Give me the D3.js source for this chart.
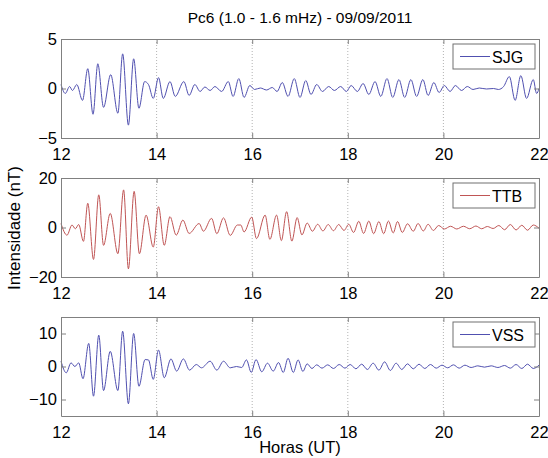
<!DOCTYPE html>
<html>
<head>
<meta charset="utf-8">
<script src="https://cdn.jsdelivr.net/npm/d3@7"></script>
<style>
  body { margin: 0; background: #fff; }
  text { font-family: "Liberation Sans", Arial, sans-serif; }
</style>
</head>
<body>
<div id="vis"></div>
<script>
// extrema: [hour UT, nT]
var sjg = [[12.00,0.4],[12.09,-0.5],[12.18,0.2],[12.24,-0.2],[12.33,0.4],[12.45,-1.2],[12.56,2.0],[12.67,-2.6],[12.77,2.5],[12.89,-1.9],[13.04,1.4],[13.19,-2.5],[13.29,3.5],[13.41,-3.7],[13.52,3.0],[13.63,-2.0],[13.75,0.7],[13.83,0.4],[13.93,-1.0],[14.04,1.1],[14.14,-1.0],[14.28,0.7],[14.39,-0.8],[14.57,0.7],[14.68,-0.7],[14.80,0.4],[14.91,-0.3],[15.01,0.15],[15.12,-0.2],[15.22,0.2],[15.36,-0.3],[15.50,0.7],[15.60,-0.8],[15.72,1.0],[15.83,-0.9],[15.95,0.3],[16.05,-0.1],[16.17,0.05],[16.30,-0.15],[16.42,0.1],[16.52,-0.3],[16.63,0.6],[16.75,-0.8],[16.88,1.0],[17.00,-0.9],[17.12,0.8],[17.23,-0.6],[17.35,0.4],[17.47,-0.3],[17.60,0.2],[17.72,-0.2],[17.85,0.2],[17.97,-0.3],[18.07,0.3],[18.20,-0.3],[18.32,0.5],[18.44,-0.6],[18.57,0.7],[18.69,-0.8],[18.82,1.0],[18.94,-0.9],[19.07,0.9],[19.19,-0.9],[19.32,0.9],[19.44,-0.8],[19.57,0.9],[19.68,-0.7],[19.80,0.6],[19.91,-0.4],[20.02,0.3],[20.14,-0.3],[20.25,0.3],[20.38,-0.2],[20.50,0.2],[20.62,-0.1],[20.75,0.05],[20.90,-0.05],[21.05,0.0],[21.15,-0.1],[21.26,0.2],[21.38,1.2],[21.50,-1.2],[21.62,1.3],[21.74,-1.0],[21.88,0.9],[21.95,-0.5],[22.00,0.0]];

var ttb = [[12.00,1.6],[12.125,-3.1],[12.23,1.0],[12.30,-0.5],[12.37,1.2],[12.47,-5.6],[12.56,9.8],[12.68,-12.9],[12.79,13.2],[12.89,-7.2],[13.03,5.7],[13.19,-10.6],[13.31,15.2],[13.41,-16.7],[13.53,14.6],[13.64,-10.6],[13.78,5.0],[13.93,-7.9],[14.04,8.4],[14.16,-7.2],[14.28,4.4],[14.41,-3.1],[14.55,3.0],[14.68,-2.4],[14.89,1.6],[14.98,-1.5],[15.15,3.7],[15.26,-2.5],[15.40,3.9],[15.54,-3.2],[15.69,1.0],[15.76,1.0],[15.83,-1.8],[15.99,4.2],[16.09,-4.5],[16.27,5.0],[16.37,-4.8],[16.51,5.0],[16.61,-5.3],[16.72,6.4],[16.83,-5.5],[16.94,4.0],[17.04,-3.0],[17.15,1.8],[17.26,-1.5],[17.37,1.3],[17.48,-1.4],[17.59,1.2],[17.70,-1.3],[17.81,1.2],[17.92,-1.2],[18.02,1.3],[18.12,-2.0],[18.23,2.5],[18.33,-2.4],[18.44,2.6],[18.54,-2.5],[18.65,2.4],[18.75,-2.5],[18.85,2.6],[18.95,-2.2],[19.04,2.4],[19.14,-2.0],[19.25,1.5],[19.37,-1.5],[19.47,1.6],[19.58,-1.4],[19.68,1.3],[19.79,-1.2],[19.90,0.8],[20.02,-0.6],[20.15,0.5],[20.28,-0.6],[20.42,0.5],[20.55,-0.5],[20.68,0.6],[20.80,-0.5],[20.92,0.4],[21.04,-0.4],[21.16,0.8],[21.28,-0.9],[21.40,1.2],[21.52,-1.0],[21.64,0.9],[21.76,-1.1],[21.88,1.0],[22.00,-0.3]];

var vss = [[12.00,1.6],[12.11,-1.9],[12.21,1.1],[12.29,0.0],[12.37,1.1],[12.46,-3.7],[12.58,7.0],[12.68,-9.0],[12.79,9.5],[12.89,-7.3],[13.03,4.6],[13.19,-7.3],[13.29,10.7],[13.41,-11.3],[13.52,10.0],[13.63,-6.0],[13.76,2.1],[13.83,2.0],[13.93,-3.9],[14.04,5.0],[14.16,-3.4],[14.30,2.3],[14.42,-1.4],[14.56,2.3],[14.69,-1.1],[14.83,0.6],[14.94,-0.4],[15.12,1.6],[15.26,-1.1],[15.40,1.6],[15.54,-0.4],[15.67,0.0],[15.78,-0.3],[15.88,2.0],[15.98,-1.8],[16.08,2.1],[16.20,-1.6],[16.32,1.0],[16.44,-1.4],[16.55,1.2],[16.65,-1.8],[16.75,2.5],[16.86,-1.8],[16.96,2.0],[17.06,-1.5],[17.15,0.8],[17.25,-0.6],[17.35,0.5],[17.46,-0.5],[17.58,0.5],[17.70,-0.6],[17.82,0.6],[17.94,-0.5],[18.05,0.6],[18.17,-0.7],[18.29,0.7],[18.41,-0.9],[18.53,1.0],[18.65,-1.1],[18.77,1.4],[18.89,-1.2],[19.01,1.0],[19.13,-0.9],[19.25,0.8],[19.37,-0.7],[19.49,0.7],[19.61,-0.6],[19.73,0.6],[19.85,-0.5],[19.97,0.4],[20.09,-0.4],[20.21,0.5],[20.33,-0.5],[20.45,0.4],[20.58,-0.3],[20.72,0.2],[20.86,-0.2],[21.00,0.2],[21.14,-0.3],[21.28,0.3],[21.40,-0.5],[21.52,0.6],[21.64,-0.6],[21.76,0.7],[21.88,-0.6],[22.00,0.4]];

var xTicks = [12, 14, 16, 18, 20, 22];
var names = ["SJG", "TTB", "VSS"];
var yDomains = [[-5, 5], [-20, 20], [-15, 15]];
var yTicks = [[-5, 0, 5], [-20, 0, 20], [-10, 0, 10]];
var colors = ["#5050b0", "#c05555", "#5050b0"];
var series = [sjg, ttb, vss];

var width = 548, height = 458;
var left = 61, right = 539;
var tops = [39, 178, 317], ph = 99;

var svg = d3.select("#vis").append("svg")
    .attr("width", width)
    .attr("height", height);

var x = d3.scaleLinear().domain([12, 22]).range([left, right]);

svg.append("text")
    .attr("x", (left + right) / 2)
    .attr("y", 23)
    .attr("text-anchor", "middle")
    .style("font-size", "15.5px")
    .text("Pc6 (1.0 - 1.6 mHz) - 09/09/2011");

names.forEach(function(name, i) {
    var top = tops[i];
    var y = d3.scaleLinear().domain(yDomains[i]).range([top + ph, top]);
    var g = svg.append("g");

    // dotted grid
    g.selectAll(".grid")
        .data(xTicks.slice(1, -1)).enter()
        .append("line")
        .attr("x1", function(d) { return x(d); })
        .attr("x2", function(d) { return x(d); })
        .attr("y1", top)
        .attr("y2", top + ph)
        .attr("stroke", "#a0a0a0")
        .attr("stroke-width", 0.8)
        .attr("stroke-dasharray", "1,2");

    var line = d3.line()
        .x(function(d) { return x(d[0]); })
        .y(function(d) { return y(d[1]); })
        .curve(d3.curveMonotoneX);

    g.append("path")
        .datum(series[i])
        .attr("d", line)
        .attr("fill", "none")
        .attr("stroke", colors[i])
        .attr("stroke-width", 1);

    // axes, ticks pointing in
    var xb = g.append("g").attr("transform", "translate(0," + (top + ph) + ")")
        .call(d3.axisBottom(x).tickValues(xTicks).tickSizeInner(-5).tickSizeOuter(0).tickPadding(10));
    var xt = g.append("g").attr("transform", "translate(0," + top + ")")
        .call(d3.axisTop(x).tickValues(xTicks).tickSizeInner(-5).tickSizeOuter(0).tickFormat(""));
    var yl = g.append("g").attr("transform", "translate(" + left + ",0)")
        .call(d3.axisLeft(y).tickValues(yTicks[i]).tickSizeInner(-5).tickSizeOuter(0).tickPadding(4));
    var yr = g.append("g").attr("transform", "translate(" + right + ",0)")
        .call(d3.axisRight(y).tickValues(yTicks[i]).tickSizeInner(-5).tickSizeOuter(0).tickFormat(""));

    [xb, xt, yl, yr].forEach(function(a) {
        a.select(".domain").attr("stroke", "#808080");
        a.selectAll(".tick line").attr("stroke", "#808080");
        a.selectAll(".tick text").style("font-size", "16.5px").attr("fill", "#000")
            .style("font-family", "'Liberation Sans', Arial, sans-serif");
    });

    // legend
    var lg = g.append("g").attr("transform", "translate(453," + (top + 5) + ")");
    lg.append("rect")
        .attr("width", 82).attr("height", 25)
        .attr("fill", "#fff")
        .attr("stroke", "#707070");
    lg.append("line")
        .attr("x1", 7).attr("x2", 37)
        .attr("y1", 12.5).attr("y2", 12.5)
        .attr("stroke", colors[i]);
    lg.append("text")
        .attr("x", 39).attr("y", 18.5)
        .style("font-size", "16px")
        .text(name);
});

svg.append("text")
    .attr("transform", "rotate(-90)")
    .attr("x", -228)
    .attr("y", 20)
    .attr("text-anchor", "middle")
    .style("font-size", "17px")
    .text("Intensidade (nT)");

svg.append("text")
    .attr("x", (left + right) / 2)
    .attr("y", 453)
    .attr("text-anchor", "middle")
    .style("font-size", "16.5px")
    .text("Horas (UT)");
</script>
</body>
</html>
